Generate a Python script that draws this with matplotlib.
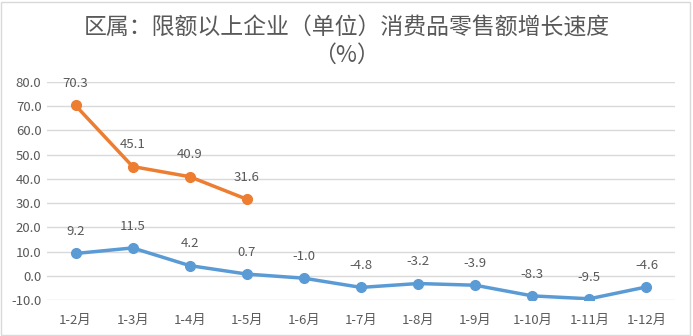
import matplotlib.pyplot as plt
from matplotlib.patches import Rectangle

plt.rcParams['font.family'] = ['Noto Sans CJK SC', 'DejaVu Sans']

months = ['1-2月', '1-3月', '1-4月', '1-5月', '1-6月', '1-7月', '1-8月',
          '1-9月', '1-10月', '1-11月', '1-12月']
total_growth = [9.2, 11.5, 4.2, 0.7, -1.0, -4.8, -3.2, -3.9, -8.3, -9.5, -4.6]
early_growth = [70.3, 45.1, 40.9, 31.6]
yticks = [-10, 0, 10, 20, 30, 40, 50, 60, 70, 80]

blue = '#5B9BD5'
orange = '#ED7D31'
txt = '#595959'

fig = plt.figure(figsize=(6.93, 3.36), dpi=100)
ax = fig.add_axes([47 / 693, 1 - 300 / 336, 628 / 693, 218 / 336])

x = list(range(len(months)))
ax.plot(x, total_growth, color=blue, lw=2.5, marker='o', ms=7, zorder=3)
ax.plot(x[:len(early_growth)], early_growth, color=orange, lw=2.5,
        marker='o', ms=7, zorder=3)

for xi, v in zip(x, total_growth):
    ax.annotate(f'{v:.1f}', (xi, v), xytext=(0, 11), textcoords='offset points',
                ha='center', va='bottom', fontsize=9.5, color=txt)
for xi, v in zip(x, early_growth):
    ax.annotate(f'{v:.1f}', (xi, v), xytext=(0, 11), textcoords='offset points',
                ha='center', va='bottom', fontsize=9.5, color=txt)

ax.set_xlim(-0.5, len(months) - 0.5)
ax.set_ylim(-10, 80)
ax.set_yticks(yticks)
ax.set_yticklabels([f'{t:.1f}' for t in yticks])
ax.set_xticks(x)
ax.set_xticklabels(months)
ax.tick_params(axis='both', length=0, labelsize=9.5, labelcolor=txt)
ax.tick_params(axis='x', pad=10)
ax.tick_params(axis='y', pad=4)
ax.grid(axis='y', color='#D9D9D9', lw=1)
ax.set_axisbelow(True)
for s in ax.spines.values():
    s.set_visible(False)

fig.text(0.5, 1 - 28 / 336, '区属：限额以上企业（单位）消费品零售额增长速度',
         ha='center', va='center', fontsize=16.5, color=txt)
fig.text(0.5, 1 - 55 / 336, '（%）', ha='center', va='center',
         fontsize=16.5, color=txt)

fig.patches.append(Rectangle((0.002, 0.004), 0.994, 0.99, transform=fig.transFigure,
                             fill=False, edgecolor='#D9D9D9', lw=1))

fig.savefig('out.png', dpi=100)
